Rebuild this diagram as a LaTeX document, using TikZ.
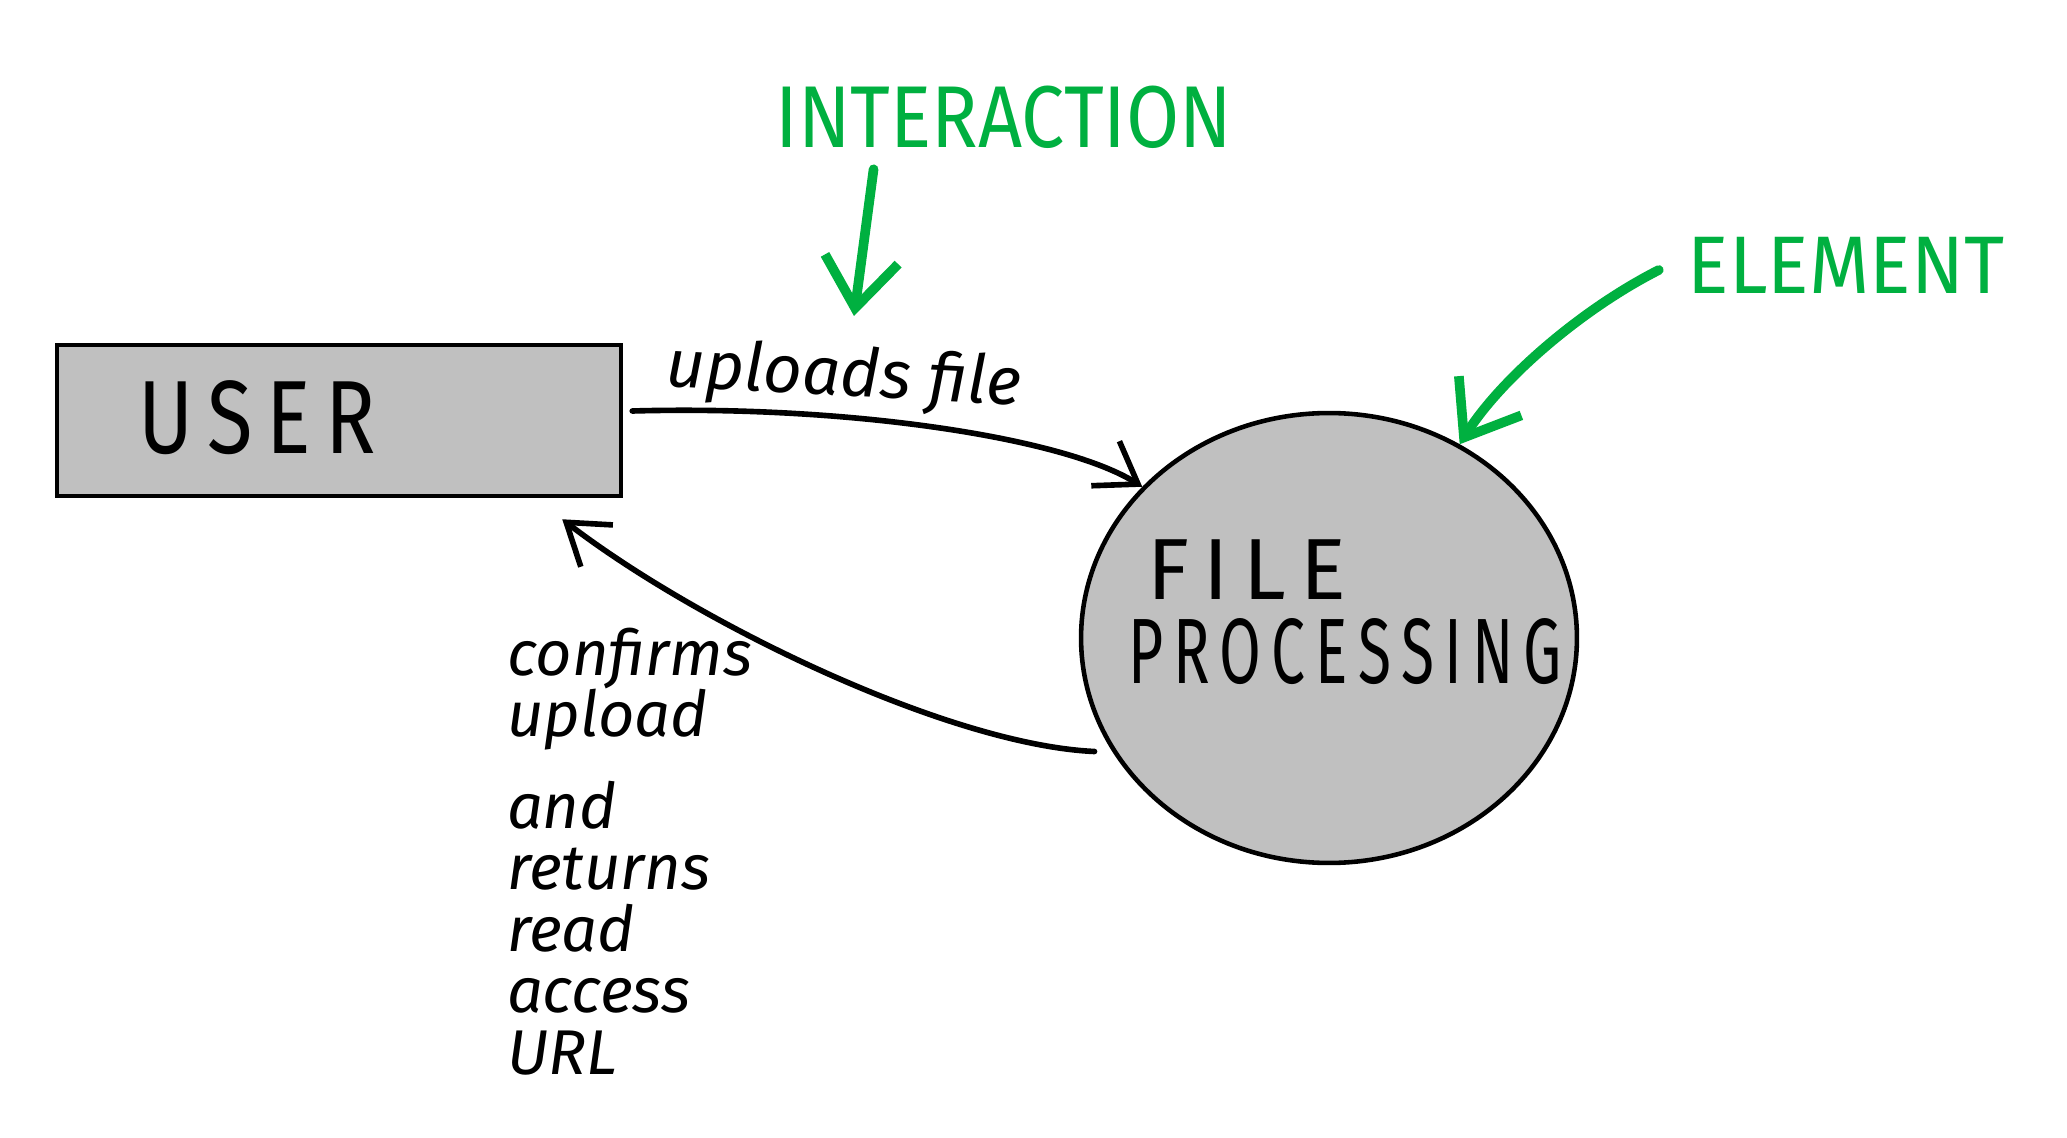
\documentclass[tikz,border=0pt]{standalone}
\usepackage{fontspec}
\setmainfont{Fira Sans}
\usetikzlibrary{arrows.meta,shapes.geometric,calc}
\definecolor{pengreen}{RGB}{0,176,64}
\definecolor{boxgray}{RGB}{192,192,192}
\begin{document}
\begin{tikzpicture}[x=0.02cm,y=-0.02cm,
  txt/.style={inner sep=0pt, outer sep=0pt},
  flow/.style={line width=3.2pt, line cap=round, line join=round,
    -{Straight Barb[length=22pt,width=30pt,line width=3.2pt]}},
  note/.style={pengreen, line width=5.5pt, line cap=round, line join=round,
    -{Straight Barb[length=28pt,width=42pt,line width=5.5pt]}},
  hand/.style={txt, font=\itshape\fontsize{36}{35}\selectfont}
]
\path[use as bounding box, fill=white] (0,0) rectangle (2067,1138);

% elements
\node[draw, fill=boxgray, line width=2.6pt, minimum width=11.28cm, minimum height=3.02cm, inner sep=0pt] (user) at (339,420.5) {};
\node[txt] (userlabel) at (257,418) {\resizebox{135pt}{41.5pt}{U\,S\,E\,R}};

\node[ellipse, draw, fill=boxgray, line width=2.6pt, minimum width=9.92cm, minimum height=9.0cm, inner sep=0pt] (proc) at (1329,638) {};
\node[txt, align=left, font=\fontsize{10}{48pt}\selectfont] (proclabel) at (1345,612)
  {\hspace*{11pt}\resizebox{113pt}{34pt}{F\,I\,L\,E}\\\resizebox{247pt}{37pt}{P\,R\,O\,C\,E\,S\,S\,I\,N\,G}};

% annotations
\node[txt, text=pengreen] (inter) at (1004,117) {\resizebox{260pt}{35pt}{INTERACTION}};
\node[txt, text=pengreen] (element) at (1846,265) {\resizebox{180pt}{32pt}{ELEMENT}};

% connectors
\draw[flow] ([shift={(9,-9.5)}]user.east) .. controls (850,405) and (1065,438) .. (proc.141);
\draw[flow] ([shift={(-14,6)}]proc.206) .. controls (950,745) and (700,625) .. ([shift={(-61,21)}]user.south east);

% connector labels
\node[txt, rotate=-3] (uplabel) at (844,378) {\resizebox{202pt}{!}{\itshape uploads file}};
\node[hand, align=left, anchor=north west] (retlabel) at (507,628)
  {confirms\\upload\\[17pt]and\\returns\\read\\access\\URL};

% green pointers
\coordinate (intertip) at (854,316);
\draw[note] ([shift={(98,21)}]inter.south west) -- (intertip);
\draw[note] ([shift={(-29,5)}]element.west) .. controls (1580,310) and (1500,380) .. (proc.56);
\end{tikzpicture}
\end{document}
